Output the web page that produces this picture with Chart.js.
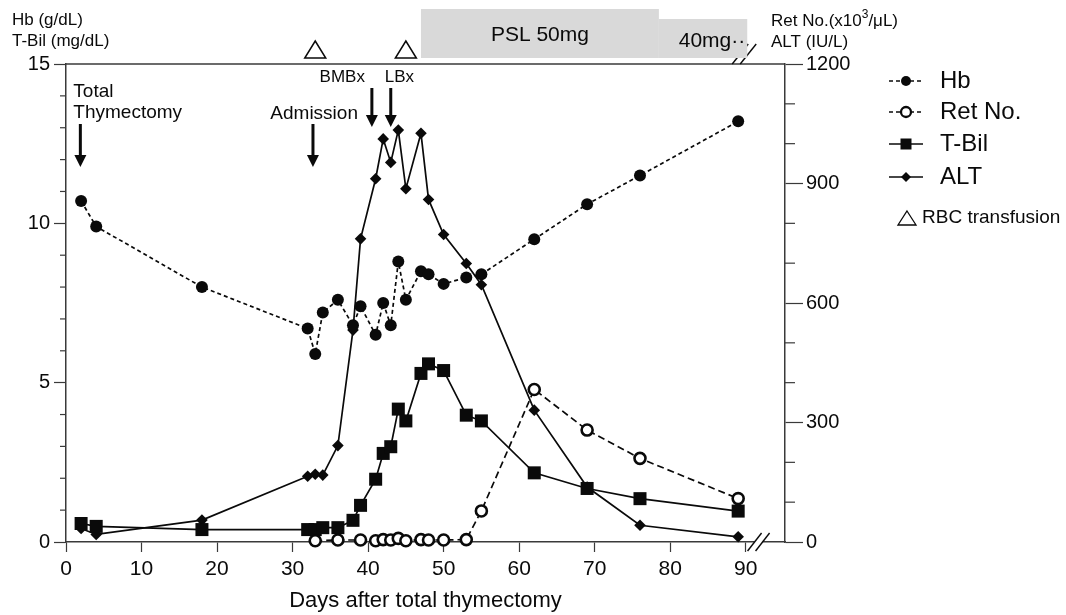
<!DOCTYPE html>
<html><head><meta charset="utf-8">
<script src="https://cdn.jsdelivr.net/npm/chart.js@4.4.1/dist/chart.umd.min.js"></script>
<style>html,body{margin:0;padding:0;background:#fff}#wrap{width:1066px;height:615px}</style>
</head><body><div id="wrap"><canvas id="c" width="1066" height="615"></canvas></div>
<script>
// ---- data ----
const days = [2,4,18,32,33,34,36,38,39,41,42,43,44,45,47,48,50,53,55,62,69,76,89];
const hbValues = [10.7,9.9,8.0,6.7,5.9,7.2,7.6,6.8,7.4,6.5,7.5,6.8,8.8,7.6,8.5,8.4,8.1,8.3,8.4,9.5,10.6,11.5,13.2];
const tbilValues = [0.58,0.49,0.39,0.39,0.39,0.45,0.45,0.68,1.15,1.97,2.78,2.99,4.17,3.80,5.29,5.59,5.38,3.98,3.80,2.17,1.68,1.36,0.97];
const altValues = [34,19,55,165,170,168,242,532,761,912,1012,953,1034,887,1026,860,772,699,646,331,138,42,13];
const retDays = [33,36,39,41,42,43,44,45,47,48,50,53,55,62,69,76,89];
const retValues = [3,5,5,3,6,5,9,3,6,5,5,6,78,383,281,210,109];
const xTickLabels = [0,10,20,30,40,50,60,70,80,90];
const leftTicks = [0,1,2,3,4,5,6,7,8,9,10,11,12,13,14,15];
const leftTickLabels = [0,5,10,15];
const rightTicks = [0,100,200,300,400,500,600,700,800,900,1000,1100,1200];
const rightTickLabels = [0,300,600,900,1200];
const transfusionDays = [33,45];
const eventNames = [['Total','Thymectomy'],['Admission'],['BMBx'],['LBx']];
const eventDays = [1.9,32.7,40.5,43];
const pslLabels = ['PSL 50mg','40mg\u00B7\u00B7'];
const pslStart = [47,78.5];
const pslEnd = [78.5,90.2];
const seriesNames = ['Hb','Ret No.','T-Bil','ALT'];

// ---- styles ----
const F = "'Liberation Sans', Arial, Helvetica, sans-serif";
const INK = '#0a0a0a';
const AXIS = '#3a3a3a';
Chart.defaults.font.family = F;
Chart.defaults.color = INK;

const pts = (xs, ys) => xs.map((d,i)=>({x:d, y:ys[i]}));

const styles = [
  {borderDash:[4,3], pointStyle:'circle', pointRadius:6, bg:INK, pbw:0, yAxisID:'y'},
  {borderDash:[7,4], pointStyle:'circle', pointRadius:5.5, bg:'#fff', pbw:2.6, yAxisID:'y2'},
  {borderDash:[], pointStyle:'rect', pointRadius:9.2, bg:INK, pbw:0, yAxisID:'y'},
  {borderDash:[], pointStyle:'rectRot', pointRadius:5.8, bg:INK, pbw:0, yAxisID:'y2'}
];
const seriesData = [pts(days,hbValues), pts(retDays,retValues), pts(days,tbilValues), pts(days,altValues)];

const datasets = seriesNames.map((n,i)=>({
  label:n, data:seriesData[i], yAxisID:styles[i].yAxisID,
  borderColor:INK, borderWidth:1.7, borderDash:styles[i].borderDash,
  pointStyle:styles[i].pointStyle, pointRadius:styles[i].pointRadius,
  pointBackgroundColor:styles[i].bg, pointBorderColor:INK, pointBorderWidth:styles[i].pbw,
  tension:0, fill:false, clip:false
}));

function line(ctx,x1,y1,x2,y2){ctx.beginPath();ctx.moveTo(x1,y1);ctx.lineTo(x2,y2);ctx.stroke();}
function text(ctx,s,x,y,size,align){ctx.font=size+'px '+F;ctx.textAlign=align||'left';ctx.textBaseline='middle';ctx.fillStyle=INK;ctx.fillText(s,x,y);}
function arrow(ctx,x,y1,y2){
  ctx.save();ctx.strokeStyle=INK;ctx.fillStyle=INK;ctx.lineWidth=3;
  line(ctx,x,y1,x,y2-10);
  ctx.beginPath();ctx.moveTo(x-6,y2-12);ctx.lineTo(x+6,y2-12);ctx.lineTo(x,y2);ctx.closePath();ctx.fill();
  ctx.restore();
}
function triangle(ctx,cx,top,bottom,w){
  ctx.beginPath();ctx.moveTo(cx,top);ctx.lineTo(cx+w/2,bottom);ctx.lineTo(cx-w/2,bottom);ctx.closePath();ctx.stroke();
}
function brk(ctx,cx,cy,h){
  ctx.save();
  ctx.fillStyle='#fff';ctx.fillRect(cx-4,cy-2,8,4);
  ctx.strokeStyle=INK;ctx.lineWidth=1.4;
  for(const dx of [-4,4]) line(ctx,cx+dx-7,cy+h/2,cx+dx+7,cy-h/2);
  ctx.restore();
}
function marker(ctx,style,r,bg,bw,x,y){
  ctx.save();ctx.fillStyle=bg;ctx.strokeStyle=INK;ctx.lineWidth=bw;ctx.setLineDash([]);
  ctx.beginPath();
  if(style==='circle'){ctx.arc(x,y,r,0,Math.PI*2);}
  else if(style==='rect'){ctx.rect(x-r,y-r,2*r,2*r);}
  else {ctx.moveTo(x-r,y);ctx.lineTo(x,y-r);ctx.lineTo(x+r,y);ctx.lineTo(x,y+r);ctx.closePath();}
  ctx.fill(); if(bw>0) ctx.stroke();
  ctx.restore();
}

// event label layout (pixel offsets relative to arrow)
const eventLayout = [
  {tx:-7, ty:[92,113], align:'left', size:19, a1:124, a2:167},
  {tx:45, ty:[114], align:'right', size:19, a1:124, a2:167},
  {tx:-7, ty:[77], align:'right', size:17, a1:88, a2:127},
  {tx:-6, ty:[77], align:'left', size:17, a1:88, a2:127}
];

const decor = {
  id:'decor',
  afterDraw(chart){
    const {ctx, chartArea:ca, scales:{x,y,y2}} = chart;
    ctx.save();
    // minor ticks
    ctx.strokeStyle=AXIS; ctx.lineWidth=1.2;
    y.ticks.forEach(t=>{ if(!leftTickLabels.includes(t.value)){const p=y.getPixelForValue(t.value); line(ctx,ca.left-6,p,ca.left,p);} });
    y2.ticks.forEach(t=>{ if(!rightTickLabels.includes(t.value)){const p=y2.getPixelForValue(t.value); line(ctx,ca.right,p,ca.right+10,p);} });
    // top frame line
    ctx.lineWidth=1.5; line(ctx,ca.left,ca.top,ca.right,ca.top);
    // axis breaks
    brk(ctx, x.getPixelForValue(91.7), ca.bottom, 18);
    ctx.strokeStyle=INK; ctx.lineWidth=1.4;
    const tb = x.getPixelForValue(89.8);
    for(const dx of [-4,4]) line(ctx,tb+dx-8,ca.top,tb+dx+8,ca.top-20);
    // PSL bars
    ctx.fillStyle='#d9d9d9';
    ctx.fillRect(x.getPixelForValue(pslStart[0]),9,x.getPixelForValue(pslEnd[0])-x.getPixelForValue(pslStart[0]),49);
    ctx.fillRect(x.getPixelForValue(pslStart[1]),19,x.getPixelForValue(pslEnd[1])-x.getPixelForValue(pslStart[1]),39);
    text(ctx,pslLabels[0],x.getPixelForValue((pslStart[0]+pslEnd[0])/2),35,21,'center');
    text(ctx,pslLabels[1],x.getPixelForValue(pslEnd[1])-2,41,21,'right');
    // transfusion triangles
    ctx.strokeStyle=INK; ctx.lineWidth=1.5;
    transfusionDays.forEach(d=>triangle(ctx,x.getPixelForValue(d),41,58,21));
    // axis titles
    text(ctx,'Hb (g/dL)',12,20,17);
    text(ctx,'T-Bil (mg/dL)',12,41,17);
    ctx.font='17px '+F;
    let rx=771; const s1='Ret No.(x10';
    text(ctx,s1,rx,21,17); rx+=ctx.measureText(s1).width;
    ctx.font='12px '+F; ctx.textBaseline='middle'; ctx.textAlign='left'; ctx.fillText('3',rx,15); rx+=ctx.measureText('3').width;
    text(ctx,'/\u03BCL)',rx,21,17);
    text(ctx,'ALT (IU/L)',771,42,17);
    // events
    eventNames.forEach((lines,i)=>{
      const L=eventLayout[i]; const ax=x.getPixelForValue(eventDays[i]);
      lines.forEach((s,j)=>text(ctx,s,ax+L.tx,L.ty[j],L.size,L.align));
      arrow(ctx,ax,L.a1,L.a2);
    });
    // legend
    const rows=[81,112,144,177];
    seriesNames.forEach((n,i)=>{
      const st=styles[i]; const yy=rows[i];
      ctx.save(); ctx.strokeStyle=INK; ctx.lineWidth=1.6; ctx.setLineDash(st.borderDash.length?[4,3]:[]);
      line(ctx,889,yy,923,yy); ctx.restore();
      const r = st.pointStyle==='rect'?5.5:5;
      marker(ctx,st.pointStyle,r,st.bg,st.pbw?2.3:0,906,yy);
      text(ctx,n,940,yy,24);
    });
    ctx.strokeStyle=INK; ctx.lineWidth=1.3;
    triangle(ctx,907,211,225,18);
    text(ctx,'RBC transfusion',922,218,19);
    ctx.restore();
  }
};

new Chart(document.getElementById('c'),{
  type:'line',
  data:{datasets},
  options:{
    responsive:false, animation:false, devicePixelRatio:1,
    layout:{padding:{left:0,right:0,top:64,bottom:0}},
    plugins:{legend:{display:false}, tooltip:{enabled:false}},
    scales:{
      x:{type:'linear', min:0, max:95.2,
        afterBuildTicks:s=>{s.ticks=xTickLabels.map(v=>({value:v}));},
        afterFit:s=>{s.height=73;},
        ticks:{font:{size:21}, color:INK, padding:5, autoSkip:false, maxRotation:0},
        grid:{drawOnChartArea:false, drawTicks:true, tickLength:10, tickColor:AXIS, tickWidth:1.2},
        border:{display:true, color:AXIS, width:1.5},
        title:{display:true, text:'Days after total thymectomy', font:{size:22}, color:INK, padding:{top:0,bottom:1}}
      },
      y:{type:'linear', position:'left', min:0, max:15,
        afterBuildTicks:s=>{s.ticks=leftTicks.map(v=>({value:v}));},
        afterFit:s=>{s.width=66;},
        ticks:{font:{size:20}, color:INK, padding:4, autoSkip:false, callback:v=>leftTickLabels.includes(v)?String(v):''},
        grid:{drawOnChartArea:false, drawTicks:true, tickLength:12, tickWidth:1.2, tickColor:c=>leftTickLabels.includes(c.tick&&c.tick.value)?AXIS:'rgba(0,0,0,0)'},
        border:{display:true, color:AXIS, width:1.5}
      },
      y2:{type:'linear', position:'right', min:0, max:1200,
        afterBuildTicks:s=>{s.ticks=rightTicks.map(v=>({value:v}));},
        afterFit:s=>{s.width=281;},
        ticks:{font:{size:20}, color:INK, padding:3, autoSkip:false, callback:v=>rightTickLabels.includes(v)?String(v):''},
        grid:{drawOnChartArea:false, drawTicks:true, tickLength:18, tickWidth:1.2, tickColor:c=>rightTickLabels.includes(c.tick&&c.tick.value)?AXIS:'rgba(0,0,0,0)'},
        border:{display:true, color:AXIS, width:1.5}
      }
    }
  },
  plugins:[decor]
});
</script></body></html>
